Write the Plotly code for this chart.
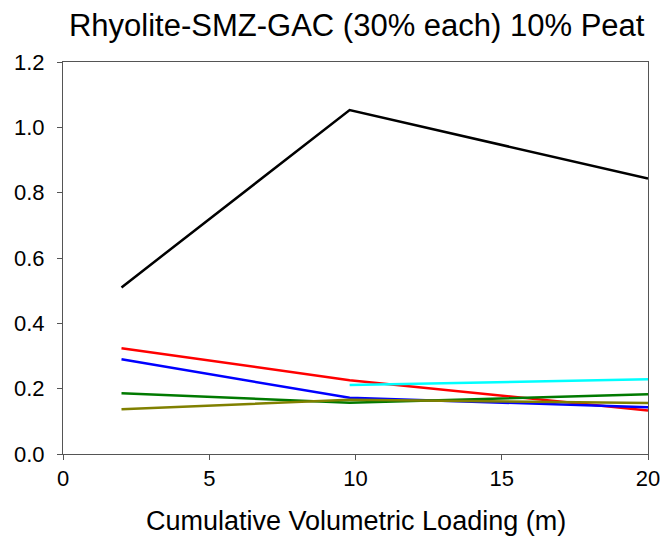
import plotly.graph_objects as go

loading = [2, 9.8, 20]
black_vals = [0.51, 1.053, 0.843]
red_vals = [0.324, 0.226, 0.133]
blue_vals = [0.29, 0.172, 0.143]
green_vals = [0.186, 0.157, 0.183]
olive_vals = [0.137, 0.166, 0.156]
cyan_x = [9.8, 20]
cyan_vals = [0.211, 0.229]
x_ticks = [0, 5, 10, 15, 20]
y_ticks = [0, 0.2, 0.4, 0.6, 0.8, 1.0, 1.2]

series = [
    ("Series 1", loading, black_vals, "#000000"),
    ("Series 2", loading, red_vals, "#FF0000"),
    ("Series 3", loading, blue_vals, "#0000FF"),
    ("Series 4", loading, green_vals, "#007A00"),
    ("Series 5", loading, olive_vals, "#808000"),
    ("Series 6", cyan_x, cyan_vals, "#00FFFF"),
]

fig = go.Figure()
for name, xs, ys, c in series:
    fig.add_trace(go.Scatter(x=xs, y=ys, mode="lines", name=name,
                             line=dict(color=c, width=2.5)))

# page body has an 8px margin; figure is sized/offset to compensate
fig.update_layout(
    width=653, height=528,
    margin=dict(l=55, r=13, t=54, b=82, autoexpand=False),
    paper_bgcolor="white", plot_bgcolor="white",
    showlegend=False,
    font=dict(family="Liberation Sans, Arial, sans-serif", color="#000000"),
    title=dict(text="Rhyolite-SMZ-GAC (30% each) 10% Peat", x=0.534, xanchor="center",
               y=0.968, yanchor="middle", font=dict(size=31)),
    annotations=[dict(text="Cumulative Volumetric Loading (m)", xref="paper", yref="paper",
                      x=0.5, y=-0.172, xanchor="center", yanchor="middle",
                      showarrow=False, font=dict(size=27))],
)
fig.update_xaxes(range=[0, 20], tickvals=x_ticks, showgrid=False, zeroline=False,
                 automargin=False,
                 showline=True, linecolor="#555555", linewidth=1, mirror=True,
                 ticks="outside", ticklen=5, tickcolor="#555555",
                 tickfont=dict(size=22))
fig.update_yaxes(range=[0, 1.2], tickvals=y_ticks, tickformat=".1f",
                 showgrid=False, zeroline=False, automargin=False,
                 showline=True, linecolor="#555555", linewidth=1, mirror=True,
                 ticks="outside", ticklen=5, tickcolor="#555555",
                 ticklabelstandoff=8,
                 tickfont=dict(size=22))

fig.write_html("out.html")
